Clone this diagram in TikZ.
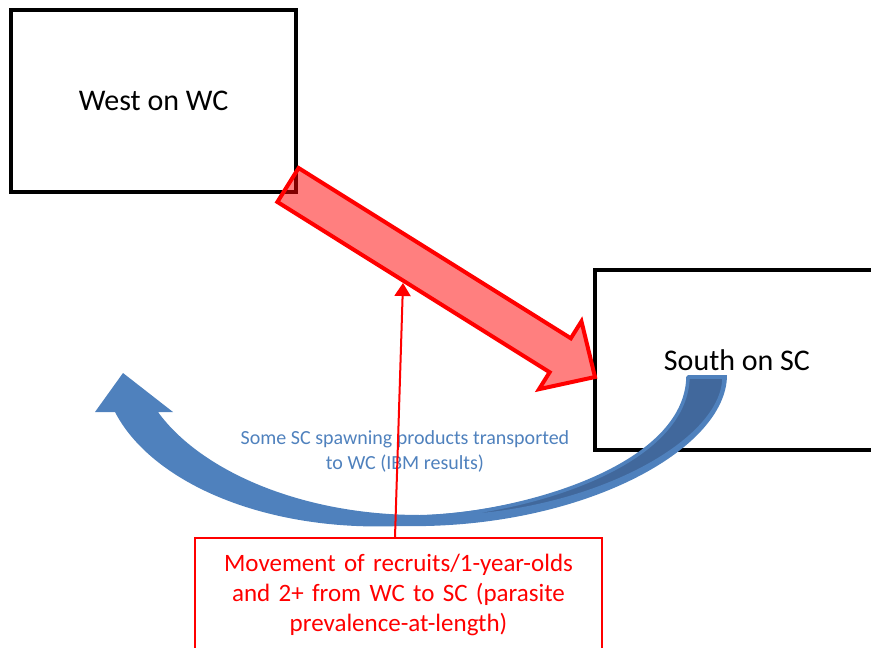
\documentclass[tikz,border=0pt]{standalone}
\usepackage{fontspec}
\setmainfont{Carlito}
\usetikzlibrary{arrows.meta, positioning, calc}
\definecolor{officeblue}{HTML}{4F81BD}
\definecolor{officedark}{HTML}{41689C}

\begin{document}
\begin{tikzpicture}[
    x=1pt, y=-1pt,
    region/.style={rectangle, draw, line width=4pt, inner sep=0pt, font=\fontsize{30}{36}\selectfont},
    note/.style={rectangle, draw=red, line width=1.5pt, text=red, align=center, text width=390pt, inner xsep=8.5pt, inner ysep=16pt, font=\fontsize{25}{30}\selectfont},
    bluenote/.style={text=officeblue, align=center, inner sep=0pt, font=\fontsize{20}{25.5}\selectfont},
    blockarrow/.style={draw=red, line width=4pt, fill=red, fill opacity=0.5, draw opacity=1, line join=miter},
    pointer/.style={-{Triangle[width=16pt, length=13pt]}, red, line width=2pt}
]

% Page
\useasboundingbox (0,0) rectangle (871,648);
\clip (0,0) rectangle (871,648);

% ============ Regions ============
\node[region, minimum width=285, minimum height=182] (west) at (153.5,101) {West on WC};
\node[region, minimum width=284, minimum height=180] (south) at (737,360) {South on SC};

% ============ Blue return arrow (SC -> WC) ============
\coordinate (bin) at ($(south.center)+(-49,15)$);
\coordinate (bout) at ($(south.center)+(-10,15)$);
\coordinate (bhead) at (123,373);

\fill[officeblue] (bhead) -- (173,412) -- (158,412)
    .. controls (200,470) and (300,515) .. (420,515)
    .. controls (530,512) and (686,465) .. (bin)
    -- (bout)
    .. controls (727,450) and (580,530) .. (400,526)
    .. controls (260,532) and (150,480) .. (115,412)
    -- (95,412) -- cycle;
\filldraw[fill=officedark, draw=officeblue, line width=3.5pt, line join=round]
    ($(bin)+(0,2)$) -- ($(bout)+(-3,2)$)
    .. controls (724,445) and (580,520) .. (425,517)
    .. controls (530,512) and (686,465) .. cycle;

\node[bluenote, anchor=north] (spawn) at (405,430) {Some SC spawning products transported\\to WC (IBM results)};

% ============ Red movement arrow (WC -> SC) ============
\coordinate (rtail) at ($(west.south east)+(-10,-9)$);
\coordinate (rtip) at ($(south.west)+(2,17)$);
\coordinate (rbase) at ($(rtip)!41pt!(rtail)$);

\draw[blockarrow] ($(rtail)!20pt!90:(rtip)$) -- ($(rbase)!20pt!90:(rtip)$)
    -- ($(rbase)!40pt!90:(rtip)$) -- (rtip)
    -- ($(rbase)!40pt!-90:(rtip)$) -- ($(rbase)!20pt!-90:(rtip)$)
    -- ($(rtail)!20pt!-90:(rtip)$) -- cycle;

% Label box and pointer
\node[note, anchor=north] (movebox) at (398.5,537) {Movement of recruits/1-year-olds\\and 2+ from WC to SC (parasite\\prevalence-at-length)};
\coordinate (hit) at (403,283);
\draw[pointer] ($(movebox.north)+(-3.5,0)$) -- (hit);

\end{tikzpicture}
\end{document}
